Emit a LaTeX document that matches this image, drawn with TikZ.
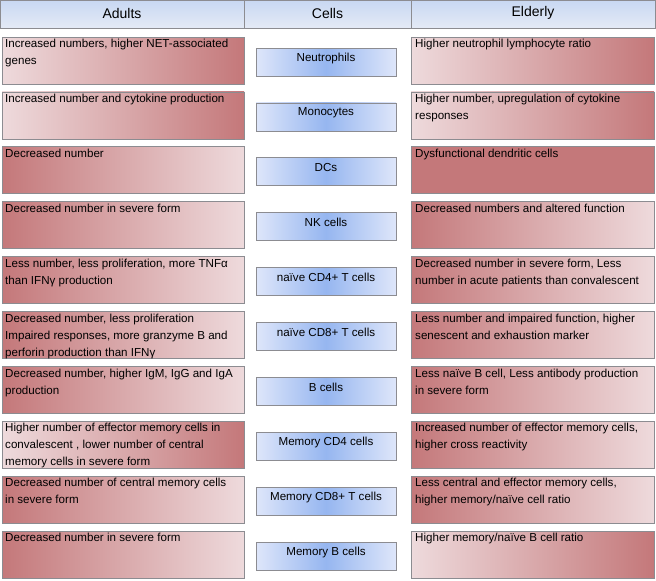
\documentclass[tikz,border=0pt]{standalone}
\usepackage{fontspec}
\setmainfont{Liberation Sans}
\definecolor{dk}{RGB}{196,120,122}
\definecolor{lt}{RGB}{238,218,220}
\definecolor{bm}{RGB}{150,182,240}
\definecolor{be}{RGB}{222,230,250}
\definecolor{bd}{RGB}{140,140,145}
\definecolor{hd1}{RGB}{200,216,242}
\definecolor{hd2}{RGB}{228,234,246}
\begin{document}
\begin{tikzpicture}[x=1pt,y=-1pt,
  base/.style={draw=bd,line width=0.8pt,inner sep=0pt},
  LD/.style={base,left color=lt,right color=dk},
  DL/.style={base,left color=dk,right color=lt},
  DD/.style={base,fill=dk},
  cbox/.style={base,left color=be,right color=be,middle color=bm},
  hbox/.style={base,top color=hd1,bottom color=hd2},
  txt/.style={anchor=north west,inner sep=0pt,align=left,font=\fontsize{11.6}{17}\selectfont},
  ctxt/.style={inner sep=0pt,font=\fontsize{11.6}{13}\selectfont},
  htxt/.style={inner sep=0pt,font=\fontsize{14}{16}\selectfont}]
\useasboundingbox (0,0) rectangle (656,581);
\fill[hbox] (0,0.5) rectangle (244,28);
\fill[hbox] (244,0.5) rectangle (411,28);
\fill[hbox] (411,0.5) rectangle (655.5,28);
\draw[draw=bd,line width=0.8pt] (0,0.5) rectangle (244,28) (244,0.5) rectangle (411,28) (411,0.5) rectangle (655.5,28);
\node[htxt] (h1) at (122,13) {Adults};
\node[htxt] (h2) at (327.5,13) {Cells};
\node[htxt] (h3) at (533,13) {Elderly};
\foreach \i/\ls/\rs/\c/\lt/\rt in {
 0/LD/LD/Neutrophils/{Increased numbers, higher NET-associated\\genes}/{Higher neutrophil lymphocyte ratio},
 1/LD/LD/Monocytes/{Increased number and cytokine production}/{Higher number, upregulation of cytokine\\responses},
 2/DL/DD/DCs/{Decreased number}/{Dysfunctional dendritic cells},
 3/DL/DL/NK cells/{Decreased number in severe form}/{Decreased numbers and altered function},
 4/DL/DL/naïve CD4+ T cells/{Less number, less proliferation, more TNFα\\than IFNγ production}/{Decreased number in severe form, Less\\number in acute patients than convalescent},
 5/DL/DL/naïve CD8+ T cells/{Decreased number, less proliferation\\Impaired responses, more granzyme B and\\perforin production than IFNγ}/{Less number and impaired function, higher\\senescent and exhaustion marker},
 6/DL/DL/B cells/{Decreased number, higher IgM, IgG and IgA\\production}/{Less naïve B cell, Less antibody production\\in severe form},
 7/LD/DL/Memory CD4 cells/{Higher number of effector memory cells in\\convalescent , lower number of central\\memory cells in severe form}/{Increased number of effector memory cells,\\higher cross reactivity},
 8/DL/DL/Memory CD8+ T cells/{Decreased number of central memory cells\\in severe form}/{Less central and effector memory cells,\\higher memory/naïve cell ratio},
 9/DL/LD/Memory B cells/{Decreased number in severe form}/{Higher memory/naïve B cell ratio}}{
  \pgfmathsetmacro{\t}{37+54.9*\i}
  \draw[\ls] (2,\t) rectangle (244,\t+47);
  \draw[\rs] (411,\t) rectangle (654,\t+47);
  \draw[cbox] (256,\t+11) rectangle (396,\t+39);
  \node[txt] (l\i) at (5,\t+2) {\lt};
  \node[txt] (r\i) at (415,\t+2) {\rt};
  \node[ctxt] (c\i) at (326,\t+21) {\c};
}
\end{tikzpicture}
\end{document}
